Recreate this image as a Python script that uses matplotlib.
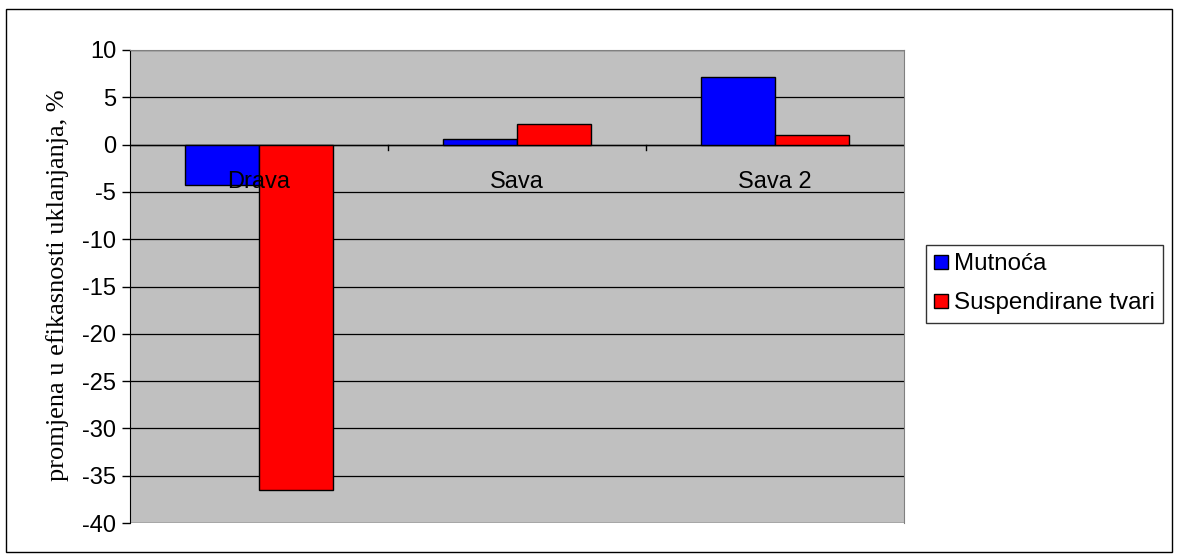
import numpy as np
import matplotlib
matplotlib.use("Agg")
import matplotlib.pyplot as plt
from matplotlib.patches import Rectangle

categories = ["Drava", "Sava", "Sava 2"]
series_names = ["Mutnoća", "Suspendirane tvari"]
mutnoca = [-4.3, 0.6, 7.1]
suspendirane = [-36.5, 2.2, 1.0]
yticks = [10, 5, 0, -5, -10, -15, -20, -25, -30, -35, -40]

plt.rcParams['font.family'] = ['Liberation Sans', 'DejaVu Sans']
FS = 17

fig = plt.figure(figsize=(11.77, 5.57), dpi=100)
W, H = 1177, 557
# outer chart border
fig.patches.append(Rectangle((6 / W, 1 - 552 / H), 1166 / W, 543 / H,
                             transform=fig.transFigure, fill=False,
                             edgecolor='black', linewidth=1.0))

ax = fig.add_axes([130 / W, 1 - 523 / H, (904 - 130) / W, (523 - 50) / H])
ax.set_facecolor('#c0c0c0')

x = np.arange(len(categories))
w = 0.286
ax.bar(x - w / 2, mutnoca, w, color='#0000ff', edgecolor='black',
       linewidth=1.0, label=series_names[0], zorder=3)
ax.bar(x + w / 2, suspendirane, w, color='#ff0000', edgecolor='black',
       linewidth=1.0, label=series_names[1], zorder=3)

ax.set_xlim(-0.5, len(categories) - 0.5)
ax.set_ylim(-40, 10)
ax.set_yticks(yticks)
ax.set_yticklabels([str(t) for t in yticks], fontsize=FS)
ax.yaxis.grid(True, color='black', linewidth=0.9, zorder=1)
ax.set_axisbelow(True)
ax.tick_params(axis='y', direction='out', length=6, width=1, pad=4)

# category axis at zero
ax.spines['bottom'].set_visible(False)
ax.spines['top'].set_color('#808080')
ax.spines['right'].set_color('#808080')
ax.spines['left'].set_color('black')
ax.axhline(0, color='black', linewidth=1.0, zorder=2)
ax.set_xticks([])
for b in np.arange(0.5, len(categories) - 0.5, 1.0):
    ax.plot([b, b], [0, -0.6], color='black', linewidth=1.0, zorder=2)
for i, c in enumerate(categories):
    ax.text(i, -4.0, c, ha='center', va='center', fontsize=FS, zorder=4)

ax.set_ylabel("promjena u efikasnosti uklanjanja, %",
              family=['Liberation Serif', 'DejaVu Serif'], fontsize=19)
ax.yaxis.set_label_coords(-(130 - 58) / (904 - 130), (523 - 285) / (523 - 50))
ax.yaxis.label.set_va('center')

leg = ax.legend(loc='upper left', bbox_to_anchor=(926 / W, 1 - 245 / H),
                bbox_transform=fig.transFigure, fontsize=17.4, frameon=True,
                fancybox=False, edgecolor='black', handlelength=0.55,
                handleheight=0.55, handletextpad=0.25, borderpad=0.35,
                labelspacing=0.7, borderaxespad=0)
leg.get_frame().set_linewidth(1.0)

fig.savefig("out.png", dpi=100)
